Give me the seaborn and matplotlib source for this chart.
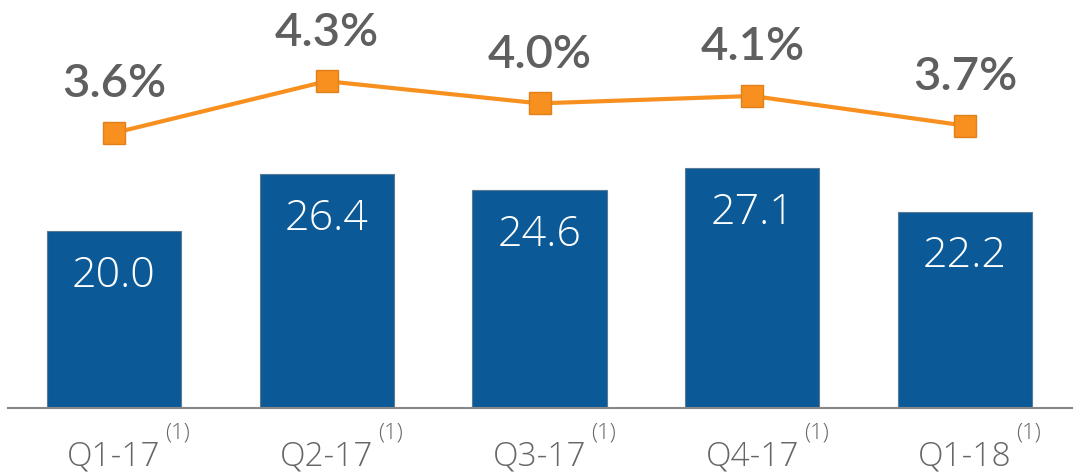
import numpy as np
import matplotlib
matplotlib.use("Agg")
import matplotlib.pyplot as plt
import seaborn as sns

quarters = ["Q1-17", "Q2-17", "Q3-17", "Q4-17", "Q1-18"]
volumes = [20.0, 26.4, 24.6, 27.1, 22.2]
ratios = [3.6, 4.3, 4.0, 4.1, 3.7]
footnote = "(1)"

BLUE = "#0b5a97"
ORANGE = "#f7901e"
GREY = "#666666"
LIGHT = ["Open Sans", "DejaVu Sans"]

sns.set_theme(style="white")
plt.rcParams["font.family"] = ["Lato", "DejaVu Sans"]

fig = plt.figure(figsize=(10.76, 4.76), dpi=100)
ax = fig.add_axes([7.5 / 1076, 68 / 476, 1064 / 1076, 408 / 476])

sns.barplot(x=quarters, y=volumes, color=BLUE, saturation=1, width=0.63,
            edgecolor="#5a7a95", linewidth=0.8, ax=ax)
ax.set_xlim(-0.5, 4.5)
ax.set_ylim(0, 46.1)

for i, v in enumerate(volumes):
    ax.annotate(f"{v:.1f}", (i, v), xytext=(0, -32), textcoords="offset points",
                ha="center", va="center", color="white", fontsize=31,
                family=LIGHT, fontweight=300)

ax2 = ax.twinx()
xs = np.arange(len(ratios))
sns.lineplot(x=xs, y=ratios, ax=ax2, color=ORANGE, linewidth=3, marker="s",
             markersize=16, markerfacecolor=ORANGE, markeredgecolor="#e0801a",
             markeredgewidth=1)
ax2.set_ylim(-0.116, 5.397)
ax2.set_xlim(-0.5, 4.5)

for i, r in enumerate(ratios):
    ax2.annotate(f"{r:.1f}%", (i, r), xytext=(0, 35), textcoords="offset points",
                 ha="center", va="center", color="#5f5f5f", fontsize=34,
                 fontweight="semibold")

ax.set_xlabel("")
ax.set_ylabel("")
ax.set_yticks([])
ax2.set_yticks([])
ax2.set_ylabel("")
ax.tick_params(axis="x", length=0, pad=23, labelsize=24, labelcolor=GREY)
for lbl in ax.get_xticklabels():
    lbl.set_family(LIGHT)
    lbl.set_fontweight(300)

for i in range(len(quarters)):
    ax.annotate(footnote, (i, 0), xytext=(46, -18), textcoords="offset points",
                ha="center", va="center", color=GREY, fontsize=16,
                family=LIGHT, fontweight=300, annotation_clip=False)

for a in (ax, ax2):
    for s in ["top", "left", "right"]:
        a.spines[s].set_visible(False)
ax2.spines["bottom"].set_visible(False)
ax.spines["bottom"].set_color("#888888")
ax.spines["bottom"].set_linewidth(1.5)

fig.savefig("out.png", dpi=100)
